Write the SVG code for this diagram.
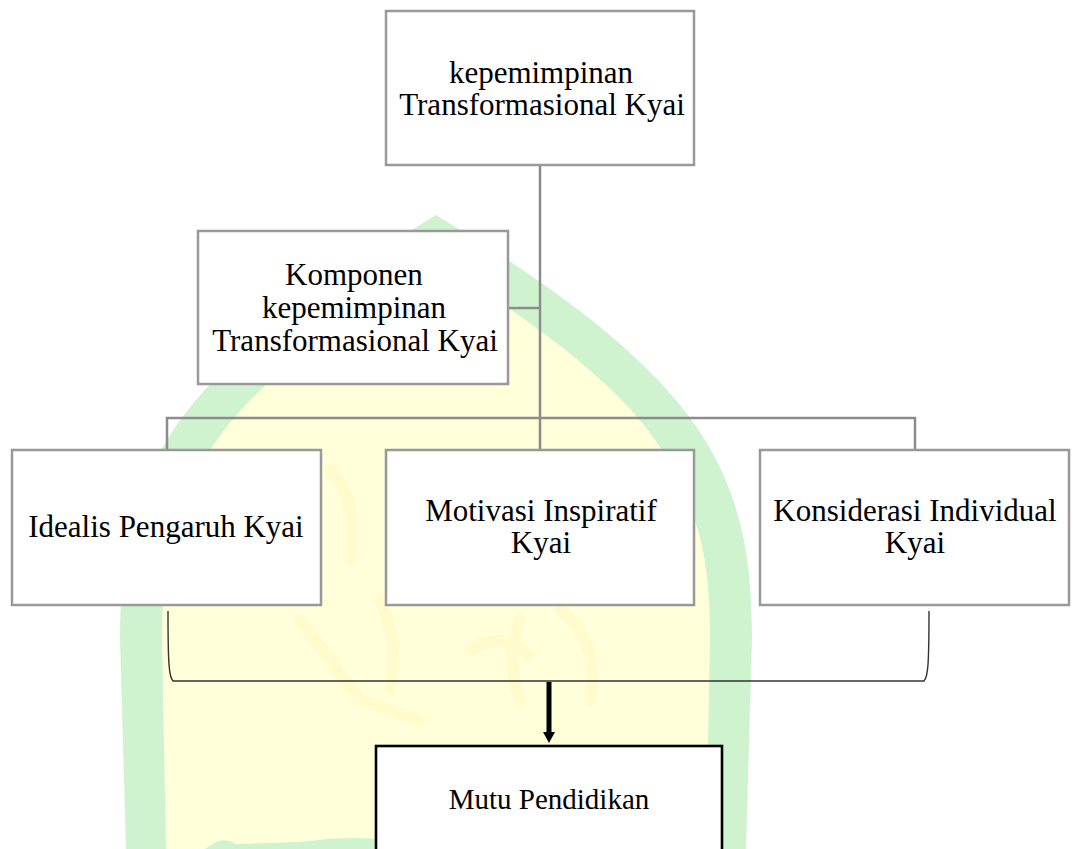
<svg xmlns="http://www.w3.org/2000/svg" width="1075" height="849" viewBox="0 0 1075 849">
  <style>
    .box { fill: #ffffff; stroke: #999999; stroke-width: 2.5; }
    .box-dark { fill: #ffffff; stroke: #000000; stroke-width: 2.6; }
    .lbl { font-family: "Liberation Serif", "Times New Roman", serif; font-size: 31px; fill: #000000; text-anchor: middle; }
    .tree { fill: none; stroke: #8c8c8c; stroke-width: 2.5; }
    .brace { fill: none; stroke: #333333; stroke-width: 1.4; }
    .orn { fill: none; stroke: #fffbcc; stroke-width: 12; stroke-linecap: round; stroke-linejoin: round; }
  </style>

  <rect width="1075" height="849" fill="#ffffff"/>

  <!-- background emblem: green arch with pale ornamented interior -->
  <g id="emblem">
    <path d="M436,215 C530,272 650,350 705,440 C745,505 752,570 752,640 L746,849 L126,849 L120,640 C120,570 127,505 167,440 C222,350 342,272 436,215 Z" fill="#cff3cf"/>
    <path d="M436,262 C515,310 620,380 665,455 C703,520 710,570 710,640 L706,849 L166,849 L162,640 C162,570 169,520 207,455 C252,380 357,310 436,262 Z" fill="#ffffda"/>
    <g class="orn">
      <path d="M300,620 Q330,660 360,700 L420,720"/>
      <path d="M380,600 Q400,640 390,690"/>
      <path d="M520,620 Q505,660 520,700"/>
      <path d="M560,610 Q600,640 590,700"/>
      <path d="M470,650 Q500,630 530,655"/>
      <path d="M330,470 Q360,500 350,560"/>
      <path d="M600,470 Q580,510 600,560"/>
      <path d="M380,330 Q440,300 500,330"/>
    </g>
    <path d="M205,849 L214,843 Q224,837 236,844 L300,842 Q345,836 376,839 L376,849 Z" fill="#cff3cf"/>
  </g>

  <!-- connectors -->
  <g id="connectors">
    <path class="tree" d="M540,165 V450"/>
    <path class="tree" d="M508,308 H540"/>
    <path class="tree" d="M167,450 V418 H915 V450"/>
    <path class="brace" d="M168,611 C168,664 169,677 173,681 L924,681 C928,677 929,664 929,611"/>
    <path d="M549,682 V734" stroke="#000000" stroke-width="5" fill="none"/>
    <path d="M543,732 L555,732 L549,743 Z" fill="#000000"/>
  </g>

  <g id="node-top">
    <rect class="box" x="386" y="11" width="308" height="154"/>
    <text class="lbl" x="541" y="83">kepemimpinan</text>
    <text class="lbl" x="542" y="115">Transformasional Kyai</text>
  </g>

  <g id="node-komponen">
    <rect class="box" x="198" y="231" width="310" height="153"/>
    <text class="lbl" x="354" y="285">Komponen</text>
    <text class="lbl" x="354" y="318">kepemimpinan</text>
    <text class="lbl" x="355" y="351">Transformasional Kyai</text>
  </g>

  <g id="node-idealis">
    <rect class="box" x="12" y="450" width="309" height="155"/>
    <text class="lbl" x="166" y="537">Idealis Pengaruh Kyai</text>
  </g>

  <g id="node-motivasi">
    <rect class="box" x="386" y="450" width="308" height="155"/>
    <text class="lbl" x="541" y="521">Motivasi Inspiratif</text>
    <text class="lbl" x="541" y="553">Kyai</text>
  </g>

  <g id="node-konsiderasi">
    <rect class="box" x="760" y="450" width="309" height="155"/>
    <text class="lbl" x="915" y="521">Konsiderasi Individual</text>
    <text class="lbl" x="915" y="553">Kyai</text>
  </g>

  <g id="node-mutu">
    <rect class="box-dark" x="376" y="746" width="346" height="120"/>
    <text class="lbl" x="549" y="809" style="font-size:29px">Mutu Pendidikan</text>
  </g>
</svg>
